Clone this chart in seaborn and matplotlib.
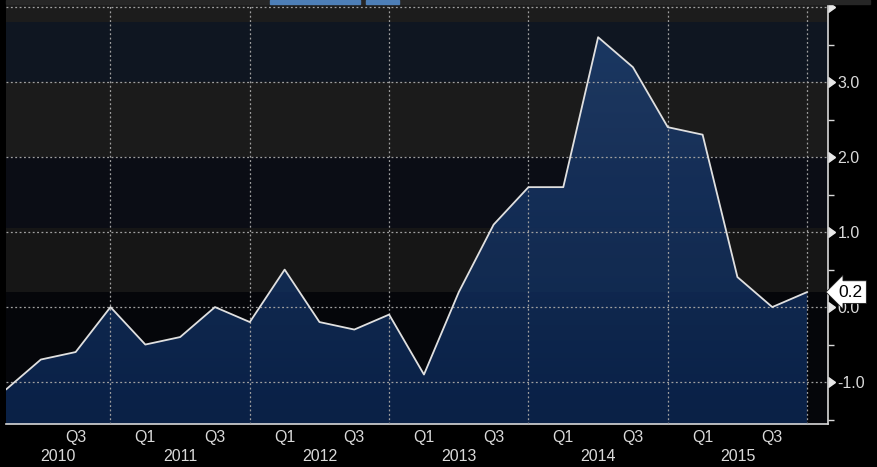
import numpy as np
import pandas as pd
import matplotlib
matplotlib.use("Agg")
import matplotlib.pyplot as plt
import seaborn as sns
from matplotlib.transforms import blended_transform_factory
from matplotlib.colors import to_rgb
from matplotlib.patches import Rectangle

# ---------------- data ----------------
years = [2010, 2011, 2012, 2013, 2014, 2015]
quarters = ["Q1", "Q2", "Q3", "Q4"]
values = [-1.1, -0.7, -0.6, 0.0, -0.5, -0.4, 0.0, -0.2, 0.5, -0.2, -0.3, -0.1,
          -0.9, 0.2, 1.1, 1.6, 1.6, 3.6, 3.2, 2.4, 2.3, 0.4, 0.0, 0.2]
y_ticks = [-1.0, 0.0, 1.0, 2.0, 3.0, 4.0]
y_tick_labels = ["-1.0", "0.0", "1.0", "2.0", "3.0", ""]
y_minor_ticks = [-1.5, -0.5, 0.5, 1.5, 2.5, 3.5]
shown_quarters = ["Q1", "Q3"]

# background bands (lower, upper, colour)
YMIN, YMAX = -1.56, 4.03
bands = [(3.8, YMAX, "#1c1c1c"), (3.0, 3.8, "#0f1621"), (2.0, 3.0, "#1b1b1b"),
         (1.05, 2.0, "#0b0d15"), (0.2, 1.05, "#161616"), (YMIN, 0.2, "#05060a")]

sns.set_theme(style="dark")
plt.rcParams["font.family"] = ["Liberation Sans", "DejaVu Sans"]
FS = 11.5
TXT = "#dadada"

df = pd.DataFrame({
    "year": np.repeat(years, len(quarters)),
    "quarter": quarters * len(years),
    "value": values,
})
df["pos"] = np.arange(len(df))

fig = plt.figure(figsize=(8.77, 4.67), dpi=100, facecolor="black")
ax = fig.add_axes([6 / 877, 43 / 467, 822 / 877, 419 / 467])
ax.set_facecolor("#05060a")
XMAX = 23.6

for lo, hi, c in bands:
    ax.axhspan(lo, hi, color=c, lw=0, zorder=0)

# gradient area fill, clipped to the area under the line
poly = ax.fill_between(df["pos"], df["value"], YMIN, color="none", lw=0, zorder=1)
c_bot = np.array(to_rgb("#0b2652"))
c_top = np.array(to_rgb("#1e3e6e"))
t = np.linspace(0, 1, 256)[:, None]
rgb = c_bot[None, :] * (1 - t) + c_top[None, :] * t
rgba = np.concatenate([rgb, np.full((256, 1), 0.85)], axis=1)[:, None, :]
im = ax.imshow(rgba, extent=[0, XMAX, YMIN, 3.7], origin="lower",
               aspect="auto", zorder=1, interpolation="bilinear")
im.set_clip_path(poly.get_paths()[0], transform=ax.transData)

sns.lineplot(data=df, x="pos", y="value", ax=ax, color="#e0e0e0",
             linewidth=1.3, zorder=3)

ax.set_xlim(0, XMAX)
ax.set_ylim(YMIN, YMAX)
ax.set_xlabel("")
ax.set_ylabel("")

# grid / ticks
ax.set_axisbelow(False)
year_ends = [i for i, q in enumerate(df["quarter"]) if q == "Q4"]
ax.set_xticks(year_ends)
ax.set_xticklabels([""] * len(year_ends))
# the first quarter sits on the left edge and carries no label
minor_labels = [q if (q in shown_quarters and p > 0) else ""
                for p, q in zip(df["pos"], df["quarter"])]
ax.set_xticks(df["pos"], labels=minor_labels, minor=True)
ax.xaxis.remove_overlapping_locs = True

ax.yaxis.tick_right()
ax.set_yticks(y_ticks, labels=y_tick_labels)
ax.set_yticks(y_minor_ticks, minor=True)

ax.grid(True, which="major", color="#a0a0a0", linestyle=(0, (1.5, 2.0)),
        linewidth=0.9)
ax.grid(False, which="minor")

ax.tick_params(axis="x", which="major", length=31, width=1.0,
               color="#8a8a8a", pad=0)
ax.tick_params(axis="x", which="minor", length=4, width=1.0,
               color="#d8d8d8", labelcolor=TXT, labelsize=FS, pad=0.3)
ax.tick_params(axis="y", which="major", right=True, left=False, length=6,
               width=1.0, color="#e8e8e8", labelcolor=TXT,
               labelsize=FS, pad=1)
ax.tick_params(axis="y", which="minor", right=True, left=False, length=4,
               width=1.0, color="#d8d8d8")
for tk in ax.yaxis.get_major_ticks():
    tk.tick2line.set_marker(9)
    tk.tick2line.set_markersize(7)

for s in ["left", "top"]:
    ax.spines[s].set_visible(False)
for s in ["bottom", "right"]:
    ax.spines[s].set_visible(True)
    ax.spines[s].set_color("#d8d8d8")
    ax.spines[s].set_linewidth(1.2)

# year labels
trans = blended_transform_factory(ax.transData, ax.transAxes)
for k, yr in enumerate(years):
    start = max(4 * k - 1, 0)
    end = 4 * k + 3
    ax.text((start + end) / 2, -0.078, str(yr), transform=trans,
            ha="center", va="center", color=TXT, fontsize=FS,
            clip_on=False)

# last-value flag
ytrans = blended_transform_factory(ax.transAxes, ax.transData)
ax.annotate(f"{values[-1]:.1f}", xy=(1, values[-1]), xycoords=ytrans,
            xytext=(7.5, 0), textcoords="offset points", ha="left", va="center",
            color="black", fontsize=12.5, annotation_clip=False, zorder=10,
            bbox=dict(boxstyle="larrow,pad=0.22", fc="white", ec="#202020",
                      lw=0.6))

# top toolbar remnants
fig.patches.append(Rectangle((6 / 877, 463 / 467), 864 / 877, 4 / 467,
                             transform=fig.transFigure, color="#262626", zorder=0))
fig.patches.append(Rectangle((270 / 877, 463 / 467), 90 / 877, 4 / 467,
                             transform=fig.transFigure, color="#4d7fb8", zorder=1))
fig.patches.append(Rectangle((366 / 877, 463 / 467), 33 / 877, 4 / 467,
                             transform=fig.transFigure, color="#4d7fb8", zorder=1))

fig.savefig("out.png", dpi=100, facecolor="black")
